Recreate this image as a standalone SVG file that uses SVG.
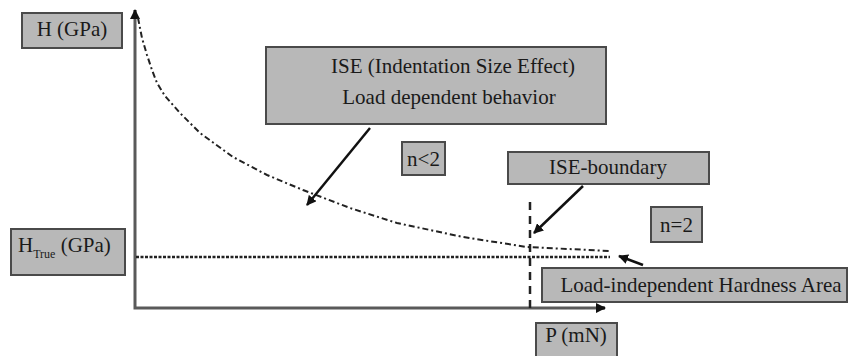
<svg xmlns="http://www.w3.org/2000/svg" width="853" height="356" viewBox="0 0 853 356">
<defs>
<style>
.box{fill:#b8b8b8;stroke:#4a4a4a;stroke-width:2}
.t{font-family:"Liberation Serif","Times New Roman",serif;font-size:21px;fill:#1a1a1a}
.axis{fill:none;stroke:#5a5a5a;stroke-width:3}
.arr{fill:none;stroke:#111;stroke-width:2.5}
</style>
<marker id="ah" viewBox="0 0 10 10" refX="9" refY="5" markerWidth="4" markerHeight="4" orient="auto" markerUnits="strokeWidth">
<path d="M0,0 L10,5 L0,10 z" fill="#111"/>
</marker>
<marker id="ax" viewBox="0 0 10 10" refX="9" refY="5" markerWidth="3.5" markerHeight="3.5" orient="auto" markerUnits="strokeWidth">
<path d="M0,0 L10,5 L0,10 z" fill="#111"/>
</marker>
</defs>
<rect width="853" height="356" fill="#fff"/>
<g id="connectors">
<path id="axes" class="axis" d="M135,14 L135,308 L604,308"/>
<path d="M135,14 L135,10" stroke="#111" stroke-width="3" marker-end="url(#ax)"/>
<path d="M600,308 L605,308" stroke="#111" stroke-width="3" marker-end="url(#ax)"/>
<path id="curve" fill="none" stroke="#222" stroke-width="2" stroke-dasharray="6,3,2,3" d="M138,18 L142,38 L147,55 L152,70 L157,83 L165,96 L180,113 L200,133 L233,157 L267,175 L303,190 L350,208 L397,223 L463,237 L527,247 L610,251"/>
<path id="htrue-line" fill="none" stroke="#222" stroke-width="2.5" stroke-dasharray="3,1.5" d="M136,257 L610,257"/>
<path id="boundary-line" fill="none" stroke="#222" stroke-width="2.5" stroke-dasharray="8,6" d="M530,202 L530,308"/>
<path class="arr" d="M370,128 L307,205" marker-end="url(#ah)"/>
<path class="arr" d="M583,186 L534,233" marker-end="url(#ah)"/>
<path class="arr" d="M643,265 L619,256" marker-end="url(#ah)"/>
</g>
<g id="h-gpa">
<rect class="box" x="22" y="13" width="100" height="35"/>
<text class="t" x="72" y="36" text-anchor="middle">H (GPa)</text>
</g>
<g id="h-true">
<rect class="box" x="11" y="229" width="114" height="46"/>
<text class="t" x="18" y="252">H<tspan font-size="12" dy="6">True</tspan><tspan dy="-6"> (GPa)</tspan></text>
</g>
<g id="ise">
<rect class="box" x="266" y="47" width="340" height="77"/>
<text class="t" x="453" y="73" text-anchor="middle">ISE (Indentation Size Effect)</text>
<text class="t" x="449" y="104" text-anchor="middle">Load dependent behavior</text>
</g>
<g id="n-lt-2">
<rect class="box" x="402" y="142" width="43" height="33"/>
<text class="t" x="423.5" y="166" text-anchor="middle">n&lt;2</text>
</g>
<g id="ise-boundary">
<rect class="box" x="508" y="152" width="201" height="32"/>
<text class="t" x="608" y="174" text-anchor="middle">ISE-boundary</text>
</g>
<g id="n-eq-2">
<rect class="box" x="651" y="207" width="51" height="35"/>
<text class="t" x="676.5" y="232" text-anchor="middle">n=2</text>
</g>
<g id="load-independent">
<rect class="box" x="542" y="268" width="305" height="34"/>
<text class="t" x="701" y="292" text-anchor="middle">Load-independent Hardness Area</text>
</g>
<g id="p-mn">
<rect class="box" x="536" y="323" width="81" height="34"/>
<text class="t" x="576" y="342" text-anchor="middle">P (mN)</text>
</g>
</svg>
